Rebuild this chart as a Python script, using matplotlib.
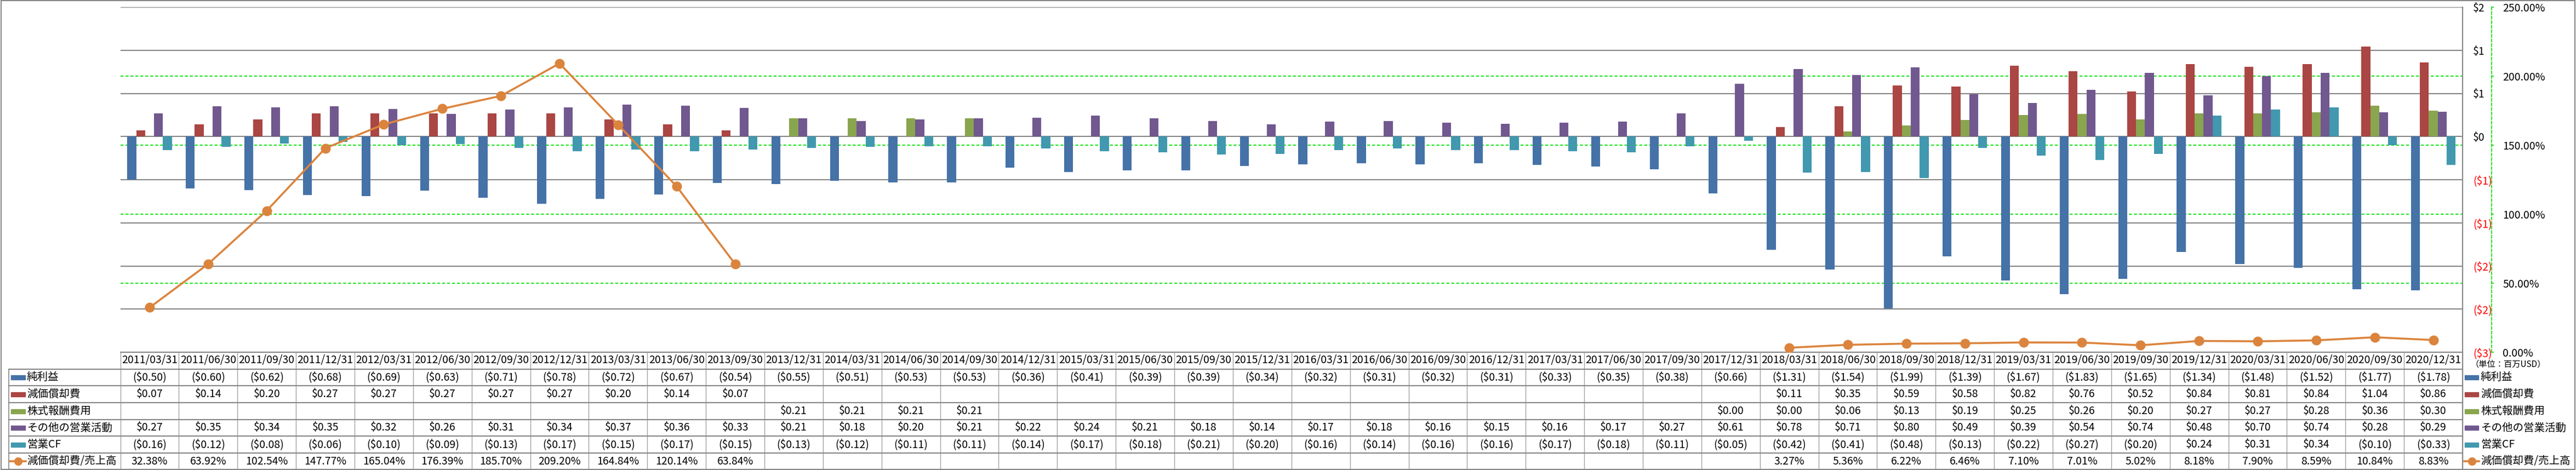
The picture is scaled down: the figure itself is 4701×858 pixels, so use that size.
import numpy as np
import matplotlib
matplotlib.use("Agg")
import matplotlib.pyplot as plt
from matplotlib.lines import Line2D
from matplotlib.patches import Rectangle
from matplotlib.transforms import blended_transform_factory

plt.rcParams['font.family'] = ['Noto Sans CJK JP', 'DejaVu Sans']

nan = np.nan
dates = ['2011/03/31', '2011/06/30', '2011/09/30', '2011/12/31',
         '2012/03/31', '2012/06/30', '2012/09/30', '2012/12/31',
         '2013/03/31', '2013/06/30', '2013/09/30', '2013/12/31',
         '2014/03/31', '2014/06/30', '2014/09/30', '2014/12/31',
         '2015/03/31', '2015/06/30', '2015/09/30', '2015/12/31',
         '2016/03/31', '2016/06/30', '2016/09/30', '2016/12/31',
         '2017/03/31', '2017/06/30', '2017/09/30', '2017/12/31',
         '2018/03/31', '2018/06/30', '2018/09/30', '2018/12/31',
         '2019/03/31', '2019/06/30', '2019/09/30', '2019/12/31',
         '2020/03/31', '2020/06/30', '2020/09/30', '2020/12/31']

net_income = [-0.50, -0.60, -0.62, -0.68, -0.69, -0.63, -0.71, -0.78, -0.72, -0.67,
              -0.54, -0.55, -0.51, -0.53, -0.53, -0.36, -0.41, -0.39, -0.39, -0.34,
              -0.32, -0.31, -0.32, -0.31, -0.33, -0.35, -0.38, -0.66, -1.31, -1.54,
              -1.99, -1.39, -1.67, -1.83, -1.65, -1.34, -1.48, -1.52, -1.77, -1.78]
depreciation = [0.07, 0.14, 0.20, 0.27, 0.27, 0.27, 0.27, 0.27, 0.20, 0.14,
                0.07, nan, nan, nan, nan, nan, nan, nan, nan, nan,
                nan, nan, nan, nan, nan, nan, nan, nan, 0.11, 0.35,
                0.59, 0.58, 0.82, 0.76, 0.52, 0.84, 0.81, 0.84, 1.04, 0.86]
stock_comp = [nan, nan, nan, nan, nan, nan, nan, nan, nan, nan,
              nan, 0.21, 0.21, 0.21, 0.21, nan, nan, nan, nan, nan,
              nan, nan, nan, nan, nan, nan, nan, 0.00, 0.00, 0.06,
              0.13, 0.19, 0.25, 0.26, 0.20, 0.27, 0.27, 0.28, 0.36, 0.30]
other_ops = [0.27, 0.35, 0.34, 0.35, 0.32, 0.26, 0.31, 0.34, 0.37, 0.36,
             0.33, 0.21, 0.18, 0.20, 0.21, 0.22, 0.24, 0.21, 0.18, 0.14,
             0.17, 0.18, 0.16, 0.15, 0.16, 0.17, 0.27, 0.61, 0.78, 0.71,
             0.80, 0.49, 0.39, 0.54, 0.74, 0.48, 0.70, 0.74, 0.28, 0.29]
op_cf = [-0.16, -0.12, -0.08, -0.06, -0.10, -0.09, -0.13, -0.17, -0.15, -0.17,
         -0.15, -0.13, -0.12, -0.11, -0.11, -0.14, -0.17, -0.18, -0.21, -0.20,
         -0.16, -0.14, -0.16, -0.16, -0.17, -0.18, -0.11, -0.05, -0.42, -0.41,
         -0.48, -0.13, -0.22, -0.27, -0.20, 0.24, 0.31, 0.34, -0.10, -0.33]
dep_ratio = [32.38, 63.92, 102.54, 147.77, 165.04, 176.39, 185.70, 209.20, 164.84, 120.14,
             63.84, nan, nan, nan, nan, nan, nan, nan, nan, nan,
             nan, nan, nan, nan, nan, nan, nan, nan, 3.27, 5.36,
             6.22, 6.46, 7.10, 7.01, 5.02, 8.18, 7.90, 8.59, 10.84, 8.83]

bar_names = ['純利益', '減価償却費', '株式報酬費用', 'その他の営業活動', '営業CF']
bar_series = [net_income, depreciation, stock_comp, other_ops, op_cf]
bar_colors = ['#4572A7', '#AA4643', '#89A54E', '#71588F', '#4198AF']
line_name = '減価償却費/売上高'
line_color = '#DB843D'

W, H = 4701, 858
fig = plt.figure(figsize=(W / 100, H / 100), dpi=100)


def fx(px):
    return px / W


def fy(py):
    return 1 - py / H


ax_l, ax_r, ax_t, ax_b = 219.6, 4494, 13, 643
ax = fig.add_axes([fx(ax_l), fy(ax_b), fx(ax_r - ax_l), (ax_b - ax_t) / H])
idx = np.arange(len(dates))
bw = 0.1525
for i, (vals, col) in enumerate(zip(bar_series, bar_colors)):
    ax.bar(idx + (i - 2) * bw, np.array(vals, dtype=float), bw, color=col, zorder=2)

ax.set_xlim(-0.5, len(dates) - 0.5)
ax.set_ylim(-2.5, 1.5)
yt = np.arange(-2.5, 1.51, 0.5)


def money0(v):
    n = int(np.floor(abs(v) + 0.5 + 1e-9))
    return f'(${n})' if v < 0 else f'${n}'


ax.set_xticks([])
ax.grid(axis='y', color='#868686', lw=1.5, zorder=0)
ax.set_axisbelow(True)
for s in ['left', 'top']:
    ax.spines[s].set_visible(False)
ax.spines['right'].set_color('#868686')
ax.spines['right'].set_linewidth(1.5)
ax.spines['bottom'].set_color('#868686')
ax.spines['bottom'].set_linewidth(1.5)

# secondary axis (ratio)
ax2 = ax.twinx()
ax2.set_ylim(0, 2.5)
pt = np.arange(0, 2.51, 0.5)
ax2.set_yticks(pt)
ax2.set_yticklabels([f'{p * 100:.2f}%' for p in pt])
for s in ['left', 'top', 'bottom']:
    ax2.spines[s].set_visible(False)
ax2.spines['right'].set_position(('outward', 38.2))
ax2.spines['right'].set_color('#00E000')
ax2.spines['right'].set_linestyle((0, (3, 2)))
ax2.spines['right'].set_linewidth(1.2)
ax2.tick_params(axis='y', direction='out', length=3, width=1.2, color='#00E000',
                pad=11.5, labelsize=14)

# primary tick labels on the right (after twinx, which moves them left)
ax.yaxis.tick_right()
ax.set_yticks(yt)
ax.set_yticklabels([money0(v) for v in yt])
for lab, v in zip(ax.get_yticklabels(), yt):
    lab.set_color('#FF0000' if v < 0 else 'black')
ax.tick_params(axis='y', length=0, pad=13.7, labelsize=14)

for p in pt[1:-1]:
    ax.plot([0, 1], [p / 2.5, p / 2.5], transform=ax.transAxes, color='#00E000',
            lw=1.3, ls=(0, (3, 2)), zorder=1)
ax2.plot(idx, np.array(dep_ratio) / 100, color=line_color, lw=2.6, marker='o',
         markersize=12, zorder=3)

# data table
trans = blended_transform_factory(ax.transData, fig.transFigure)
head_y = 658
row_tops = [673.5, 704, 735, 766, 796, 827, 857]
line_c = '#868686'
for k, d in enumerate(dates):
    ax.text(k, fy(head_y), d, transform=trans, ha='center', va='center', fontsize=14)
for k in range(len(dates) + 1):
    fig.add_artist(Line2D([k - 0.5, k - 0.5], [fy(643), fy(857)], transform=trans,
                          color='#A0A0A0', lw=1))
for ry in row_tops:
    fig.add_artist(Line2D([fx(16), fx(4494)], [fy(ry), fy(ry)], color=line_c, lw=1.5))
fig.add_artist(Line2D([fx(16), fx(16)], [fy(673.5), fy(857)], color=line_c, lw=1.2))
fig.add_artist(Line2D([fx(4494), fx(4494)], [fy(643), fy(857)], color=line_c, lw=1.5))


def fmt_money(v):
    if np.isnan(v):
        return ''
    return f'(${-v:.2f})' if v < 0 else f'${v:.2f}'


row_centers = [(row_tops[i] + row_tops[i + 1]) / 2 for i in range(6)]
for r, vals in enumerate(bar_series):
    for k, v in enumerate(vals):
        s = fmt_money(v)
        if s:
            ax.text(k, fy(row_centers[r]), s, transform=trans, ha='center', va='center', fontsize=14)
for k, v in enumerate(dep_ratio):
    if not np.isnan(v):
        ax.text(k, fy(row_centers[5]), f'{v:.2f}%', transform=trans, ha='center',
                va='center', fontsize=14)


def legend_entry(x0, x1, xt, yc, name, color, is_line=False):
    if is_line:
        fig.add_artist(Line2D([fx(x0), fx(x1)], [fy(yc), fy(yc)], color=color, lw=2.6))
        fig.add_artist(Line2D([fx((x0 + x1) / 2)], [fy(yc)], color=color, marker='o',
                              markersize=10, lw=0))
    else:
        fig.add_artist(Rectangle((fx(x0), fy(yc + 4)), fx(x1 - x0), 8 / H,
                                 transform=fig.transFigure, color=color))
    fig.text(fx(xt), fy(yc), name, ha='left', va='center', fontsize=14)


for r, (name, col) in enumerate(zip(bar_names, bar_colors)):
    legend_entry(20, 46, 49, row_centers[r], name, col)
    legend_entry(4498, 4523, 4527, row_centers[r], name, col)
legend_entry(18, 47, 49, row_centers[5], line_name, line_color, True)
legend_entry(4497, 4524, 4527, row_centers[5], line_name, line_color, True)

fig.text(fx(4508), fy(665), '（単位：百万USD）', ha='left', va='center', fontsize=11)

fig.add_artist(Rectangle((0.0005, 0.001), 0.999, 0.998, transform=fig.transFigure,
                         fill=False, edgecolor='#868686', lw=1.5))

fig.savefig('out.png', dpi=100)
